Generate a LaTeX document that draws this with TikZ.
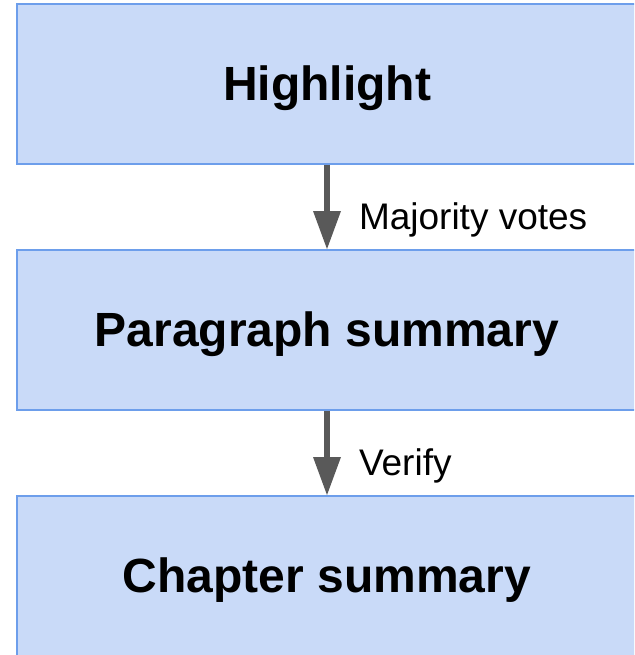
\documentclass[tikz,border=0pt]{standalone}
\usepackage{fontspec}
\setmainfont{Liberation Sans}
\usetikzlibrary{positioning, arrows.meta}
\definecolor{boxfill}{HTML}{C9DAF8}
\definecolor{boxline}{HTML}{6D9EEB}
\definecolor{arrowgray}{HTML}{595959}

\begin{document}
\begin{tikzpicture}[x=1pt,y=1pt,>={Triangle[length=38pt,width=28pt,line width=0pt]},
        stage/.style={rectangle,draw=boxline,fill=boxfill,line width=2pt,
            minimum width=620pt,minimum height=160pt,text height=36pt,text depth=2.6pt,
            font=\fontsize{48}{58}\selectfont\bfseries},
        flow/.style={->,color=arrowgray,line width=6pt},
        vote/.style={anchor=base west,inner sep=0pt,xshift=29pt,yshift=-22pt,
            text=black,font=\fontsize{37}{44}\selectfont}]
        \useasboundingbox (0,0) rectangle (634,-655);
        \clip (0,0) rectangle (634,-655);
        \node[stage] (hl) at (327,-84) {Highlight};
        \node[stage] (para)[below=84pt of hl]{Paragraph summary};
        \node[stage] (chap)[below=84pt of para]{Chapter summary};
        
        \path[flow]
        (hl) edge node[vote] {Majority votes} (para)
        (para) edge node[vote] {Verify} (chap);
    \end{tikzpicture}
\end{document}
